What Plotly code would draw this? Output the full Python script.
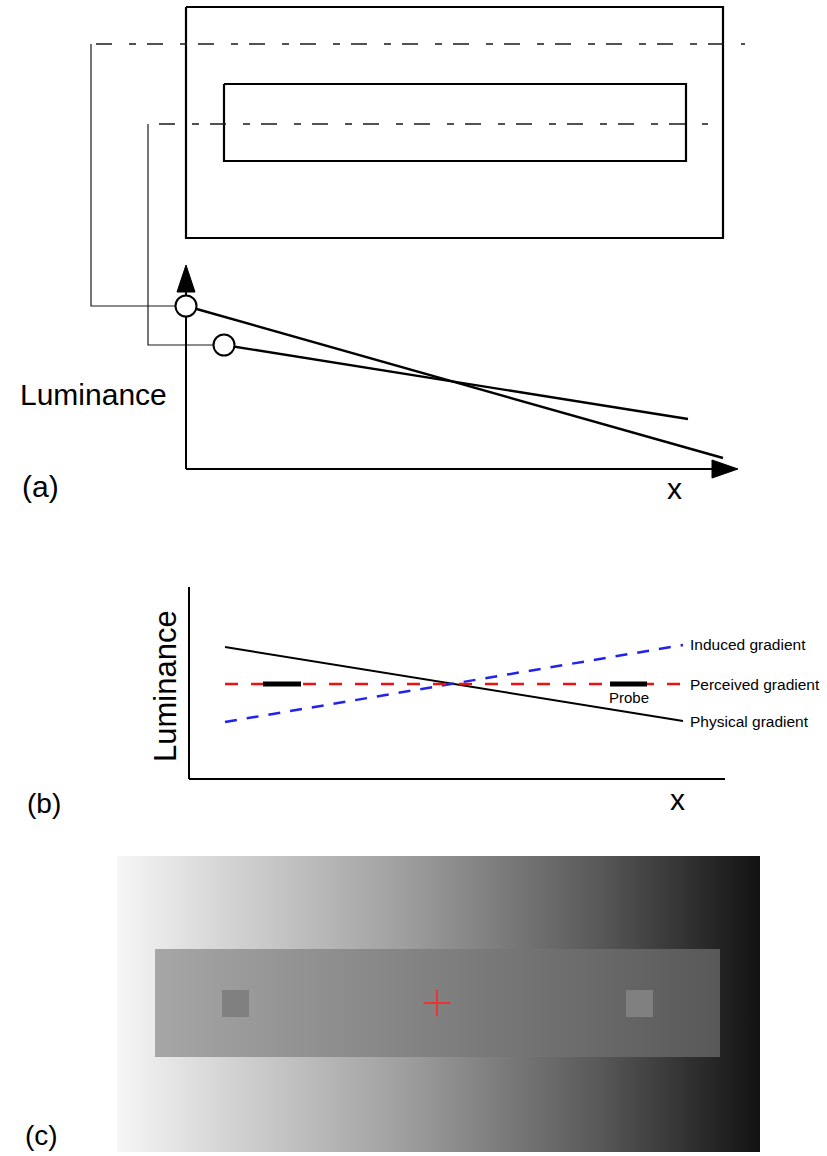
import plotly.graph_objects as go

FONT = "Liberation Sans, Arial, sans-serif"

# ---------------- panel (a) ----------------
a_outer_x = [186, 723]
a_outer_y = [7, 238]
a_inner_x = [224, 686]
a_inner_y = [84, 161]
a_scan_y = [44, 124]
a_scan_x0 = [96, 159]
a_scan_x1 = [745, 708]
a_leader_x = [91, 148]
a_point_x = [186, 224]
a_point_y = [306, 345]
a_end_x = [723, 688]
a_end_y = [458, 419]
a_origin = [186, 469]
a_xaxis_tip = 738
a_yaxis_tip = 265

# ---------------- panel (b) ----------------
b_x = [225, 683]
b_physical = [647, 721]
b_perceived = [684, 684]
b_induced = [722, 645]
b_probe_x = [[263, 301], [610, 647]]
b_origin = [189, 779]
b_xaxis_end = 725
b_yaxis_end = 587
b_labels = ["Induced gradient", "Perceived gradient", "Physical gradient"]
b_label_y = [644, 684, 721]

# ---------------- panel (c) ----------------
c_bg_x = [117, 760]
c_bg_y = [856, 1152]
c_bg_stop_x = [117, 200, 300, 400, 450, 500, 600, 700, 760]
c_bg_stop_gray = [246, 220, 190, 160, 142, 124, 88, 44, 18]
c_in_x = [155, 720]
c_in_y = [949, 1057]
c_in_stop_x = [155, 437, 720]
c_in_stop_gray = [166, 128, 88]
c_square_x = [235.5, 639.5]
c_square_y = [1003.5, 1003.5]
c_square_gray = 128
c_cross = [437, 1003]

fig = go.Figure()


def line(xs, ys, color="black", width=2, dash="solid"):
    fig.add_trace(go.Scatter(x=xs, y=ys, mode="lines",
                             line=dict(color=color, width=width, dash=dash),
                             hoverinfo="skip"))


def poly(xs, ys, color):
    fig.add_trace(go.Scatter(x=xs + [xs[0]], y=ys + [ys[0]], mode="lines",
                             fill="toself", fillcolor=color,
                             line=dict(color=color, width=1), hoverinfo="skip"))


def gray(v):
    return f"rgb({v},{v},{v})"


def grad_rect(xr, yr, sx, sg):
    span = xr[1] - xr[0]
    cs = [[(x - xr[0]) / span, gray(g)] for x, g in zip(sx, sg)]
    fig.add_trace(go.Scatter(
        x=[xr[0], xr[1], xr[1], xr[0], xr[0]],
        y=[yr[0], yr[0], yr[1], yr[1], yr[0]],
        mode="lines", fill="toself", line=dict(width=0),
        fillgradient=dict(type="horizontal", colorscale=cs),
        hoverinfo="skip"))


# panel (a) rectangles
for rx, ry in [(a_outer_x, a_outer_y), (a_inner_x, a_inner_y)]:
    line([rx[0], rx[1], rx[1], rx[0], rx[0]], [ry[0], ry[0], ry[1], ry[1], ry[0]], width=2.2)

# scan lines and leaders
for i in range(2):
    line([a_scan_x0[i], a_scan_x1[i]], [a_scan_y[i], a_scan_y[i]],
         color="#1a1a1a", width=1.3, dash="16px,17px,7px,11px")
    line([a_leader_x[i], a_leader_x[i], a_point_x[i]],
         [a_scan_y[i], a_point_y[i], a_point_y[i]], color="#1a1a1a", width=1.2)

# axes (a)
line([a_origin[0], a_origin[0]], [a_origin[1], a_yaxis_tip + 20], width=2)
line([a_origin[0], a_xaxis_tip - 20], [a_origin[1], a_origin[1]], width=2)
poly([a_origin[0], a_origin[0] - 9, a_origin[0] + 9],
     [a_yaxis_tip, a_yaxis_tip + 27, a_yaxis_tip + 27], "black")
poly([a_xaxis_tip, a_xaxis_tip - 26, a_xaxis_tip - 26],
     [a_origin[1], a_origin[1] - 9, a_origin[1] + 9], "black")

# luminance profiles (a)
for i in range(2):
    line([a_point_x[i], a_end_x[i]], [a_point_y[i], a_end_y[i]], width=2.4)
fig.add_trace(go.Scatter(x=a_point_x, y=a_point_y, mode="markers",
                         marker=dict(symbol="circle", size=21, color="white",
                                     line=dict(color="black", width=2)),
                         hoverinfo="skip"))

# panel (b)
line([b_origin[0], b_origin[0]], [b_yaxis_end, b_origin[1]], width=2)
line([b_origin[0], b_xaxis_end], [b_origin[1], b_origin[1]], width=2)
line(b_x, b_physical, width=2)
line(b_x, b_induced, color="#2222ee", width=2.5, dash="12px,10px")
line(b_x, b_perceived, color="#ee1111", width=2.5, dash="13px,13px")
for px in b_probe_x:
    line(px, [b_perceived[0], b_perceived[0]], width=5)

# panel (c)
grad_rect(c_bg_x, c_bg_y, c_bg_stop_x, c_bg_stop_gray)
grad_rect(c_in_x, c_in_y, c_in_stop_x, c_in_stop_gray)
fig.add_trace(go.Scatter(x=c_square_x, y=c_square_y, mode="markers",
                         marker=dict(symbol="square", size=27, color=gray(c_square_gray),
                                     line=dict(width=0)),
                         hoverinfo="skip"))
fig.add_trace(go.Scatter(x=[c_cross[0]], y=[c_cross[1]], mode="markers",
                         marker=dict(symbol="cross-thin", size=19,
                                     line=dict(color="#ec3434", width=2)),
                         hoverinfo="skip"))

# text
texts = [
    dict(x=93, y=394, text="Luminance", size=30),
    dict(x=40, y=486, text="(a)", size=30),
    dict(x=674, y=488, text="x", size=30),
    dict(x=44, y=803, text="(b)", size=28),
    dict(x=677, y=799, text="x", size=30),
    dict(x=41, y=1135, text="(c)", size=28),
    dict(x=629, y=697, text="Probe", size=15),
]
for t in texts:
    fig.add_annotation(x=t["x"], y=t["y"], text=t["text"], showarrow=False,
                       xanchor="center", yanchor="middle",
                       font=dict(family=FONT, size=t["size"], color="black"))
fig.add_annotation(x=165, y=686, text="Luminance", showarrow=False, textangle=-90,
                   xanchor="center", yanchor="middle",
                   font=dict(family=FONT, size=31, color="black"))
for lab, ly in zip(b_labels, b_label_y):
    fig.add_annotation(x=688, y=ly, text=lab, showarrow=False,
                       xanchor="left", yanchor="middle",
                       font=dict(family=FONT, size=15.5, color="black"))

fig.update_layout(
    width=827, height=1156, margin=dict(l=0, r=0, t=0, b=0),
    paper_bgcolor="white", plot_bgcolor="white", showlegend=False,
    xaxis=dict(range=[0, 827], visible=False, fixedrange=True),
    yaxis=dict(range=[1156, 0], visible=False, fixedrange=True),
)

fig.write_html("out.html", config={"displayModeBar": False},
               post_script="document.body.style.margin='0';")
